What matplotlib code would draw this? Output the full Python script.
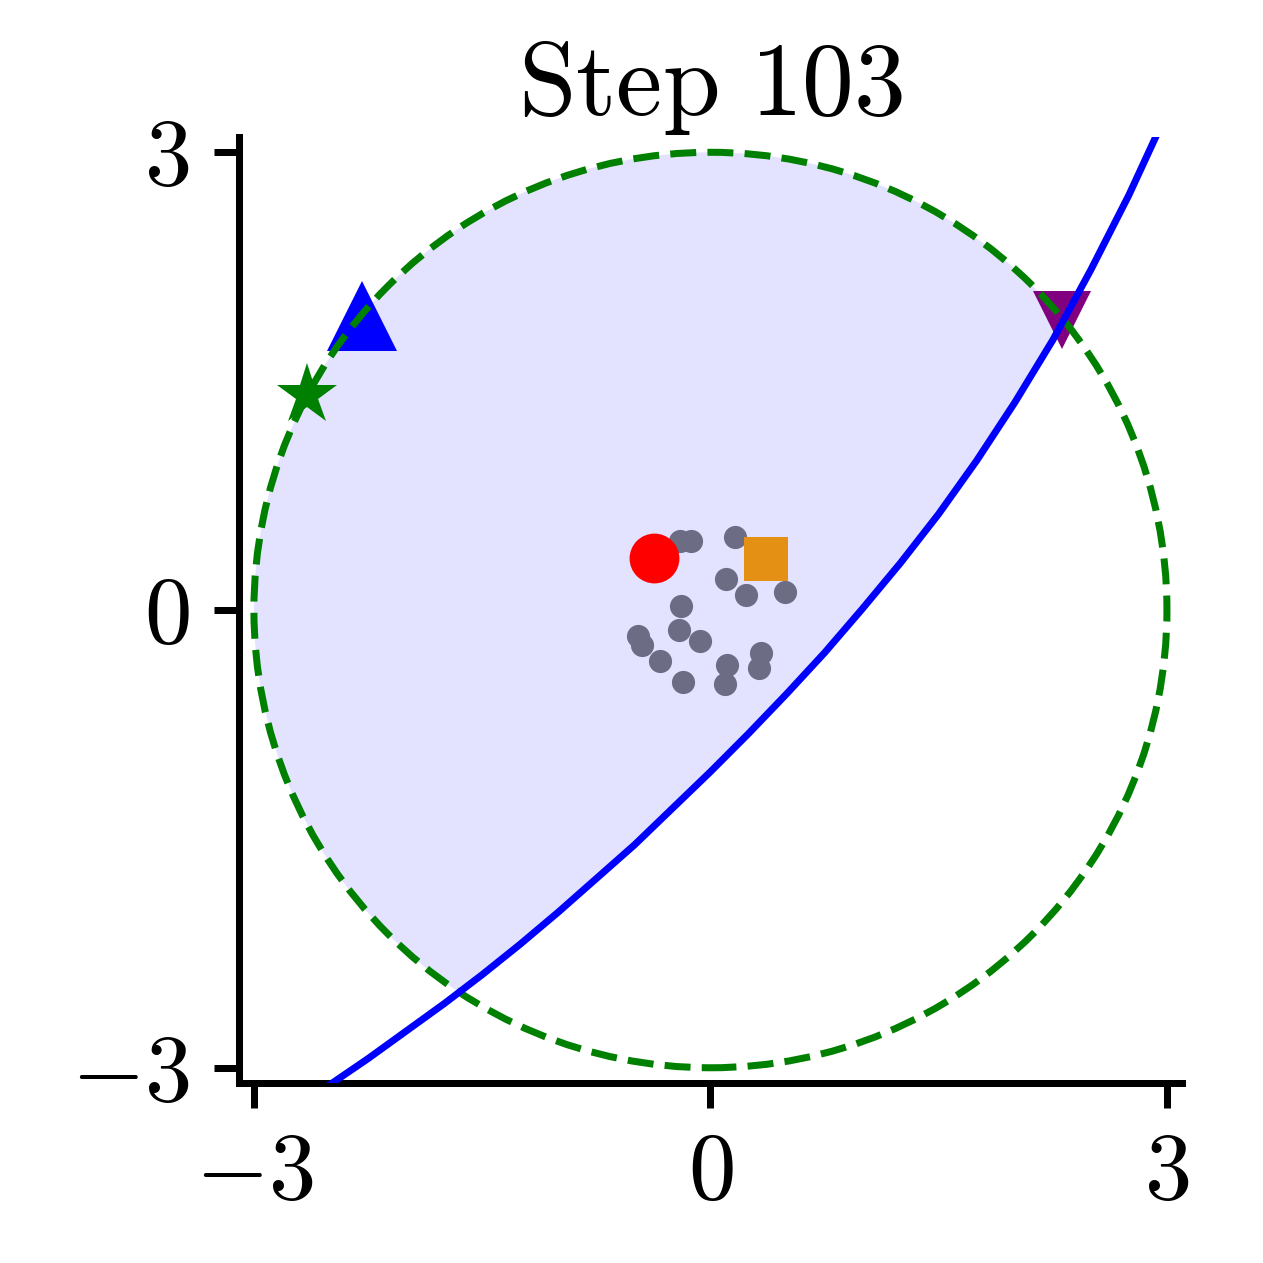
import numpy as np
import matplotlib
matplotlib.use("Agg")
import matplotlib.pyplot as plt
from matplotlib.patches import Circle

plt.rcParams['mathtext.fontset'] = 'cm'
plt.rcParams['font.family'] = 'serif'
plt.rcParams['font.serif'] = ['cmr10', 'DejaVu Serif']
plt.rcParams['axes.formatter.use_mathtext'] = True

# values
title = r"$\mathrm{Step\ 103}$"
ticks = [-3, 0, 3]
tick_labels = [r"$-3$", r"$0$", r"$3$"]
lim = (-3.1, 3.1)

circle_center = (0.0, 0.0)
circle_radius = 3.0

# boundary curve (blue)
curve_x = [-2.5, -2.25, -2.0, -1.75, -1.5, -1.25, -1.0, -0.75, -0.5, -0.25,
           0.0, 0.25, 0.5, 0.75, 1.0, 1.25, 1.5, 1.75, 2.0, 2.25, 2.5,
           2.75, 3.0]
curve_y = [-3.11, -2.94, -2.76, -2.58, -2.39, -2.19, -1.98, -1.76, -1.54,
           -1.30, -1.06, -0.81, -0.55, -0.28, 0.01, 0.31, 0.63, 0.98, 1.36,
           1.77, 2.23, 2.72, 3.26]

# grey sample points
pts_x = [-0.198, -0.128, 0.160, 0.099, 0.231, 0.488, -0.194, -0.209, -0.473,
         -0.451, -0.066, -0.334, -0.180, 0.110, 0.094, 0.330, 0.319]
pts_y = [0.452, 0.452, 0.478, 0.206, 0.096, 0.118, 0.026, -0.132, -0.167,
         -0.229, -0.206, -0.334, -0.469, -0.360, -0.487, -0.283, -0.382]

red_pt = (-0.374, 0.338)
orange_pt = (0.363, 0.337)
blue_tri = (-2.29, 1.93)
green_star = (-2.65, 1.41)
purple_tri = (2.31, 1.90)

fig = plt.figure(figsize=(2.5, 2.5), dpi=505.2)
ax = fig.add_axes([0.189, 0.1425, 0.747, 0.749])

# shaded region: inside the circle, left of the curve
clip_circ = Circle(circle_center, circle_radius, transform=ax.transData)
fill = ax.fill_betweenx(curve_y, lim[0], curve_x, color='blue', alpha=0.11,
                        lw=0, zorder=1)
fill.set_clip_path(clip_circ)

ax.plot(*purple_tri, marker='v', ms=8.2, color='purple', mew=0, zorder=2)
ax.plot(*blue_tri, marker='^', ms=10, color='blue', mew=0, zorder=2)

circ = Circle(circle_center, circle_radius, fill=False, ls='--', lw=1.0,
              color='green', zorder=3)
ax.add_patch(circ)

ax.plot(curve_x, curve_y, color='blue', lw=1.0, zorder=4)

ax.plot(pts_x, pts_y, 'o', ms=3.3, color='#6c6c85', mew=0, zorder=5)
ax.plot(*red_pt, marker='o', ms=7.1, color='red', mew=0, zorder=6)
ax.plot(*orange_pt, marker='s', ms=6.4, color='#e39014', mew=0, zorder=6)
ax.plot(*green_star, marker='*', ms=9, color='green', mew=0, zorder=6)

ax.set_xlim(lim)
ax.set_ylim(lim)
ax.set_xticks(ticks)
ax.set_yticks(ticks)
ax.set_xticklabels(tick_labels, fontsize=13.5)
ax.set_yticklabels(tick_labels, fontsize=13.5)
ax.tick_params(width=1.0, length=3.5)
for s in ['top', 'right']:
    ax.spines[s].set_visible(False)
for s in ['left', 'bottom']:
    ax.spines[s].set_linewidth(1.0)

ax.set_title(title, fontsize=14.8, pad=2.0)

fig.savefig('out.png', dpi=505.2)
